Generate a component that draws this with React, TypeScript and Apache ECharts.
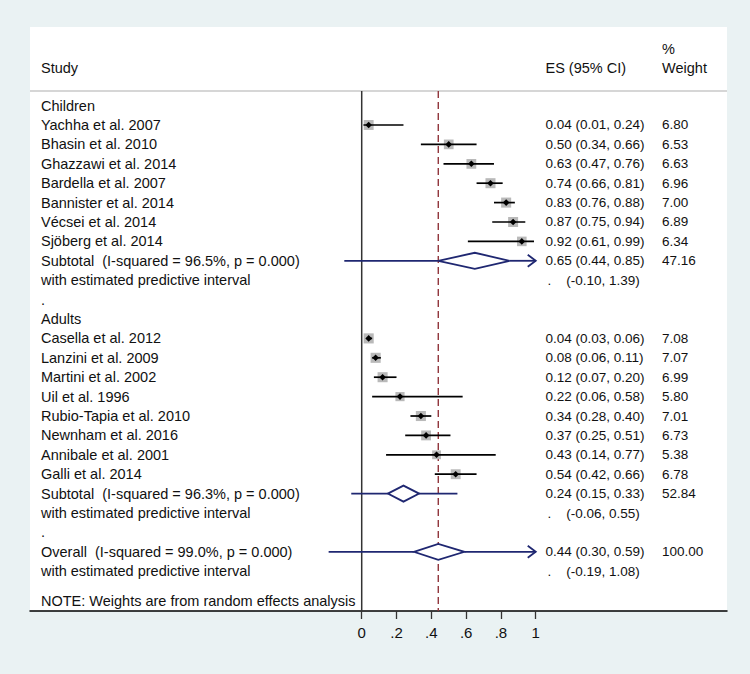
import React, { useEffect, useRef } from "react";
import * as echarts from "echarts";

// ---------- data ----------
const groupNames = ["Children", "Adults"];

const childStudies = [
  "Yachha et al. 2007",
  "Bhasin et al. 2010",
  "Ghazzawi et al. 2014",
  "Bardella et al. 2007",
  "Bannister et al. 2014",
  "Vécsei et al. 2014",
  "Sjöberg et al. 2014",
];
const childES = [0.04, 0.5, 0.63, 0.74, 0.83, 0.87, 0.92];
const childLo = [0.01, 0.34, 0.47, 0.66, 0.76, 0.75, 0.61];
const childHi = [0.24, 0.66, 0.76, 0.81, 0.88, 0.94, 0.99];
const childWeight = [6.8, 6.53, 6.63, 6.96, 7.0, 6.89, 6.34];

const adultStudies = [
  "Casella et al. 2012",
  "Lanzini et al. 2009",
  "Martini et al. 2002",
  "Uil et al. 1996",
  "Rubio-Tapia et al. 2010",
  "Newnham et al. 2016",
  "Annibale et al. 2001",
  "Galli et al. 2014",
];
const adultES = [0.04, 0.08, 0.12, 0.22, 0.34, 0.37, 0.43, 0.54];
const adultLo = [0.03, 0.06, 0.07, 0.06, 0.28, 0.25, 0.14, 0.42];
const adultHi = [0.06, 0.11, 0.2, 0.58, 0.4, 0.51, 0.77, 0.66];
const adultWeight = [7.08, 7.07, 6.99, 5.8, 7.01, 6.73, 5.38, 6.78];

const pooledLabels = [
  "Subtotal  (I-squared = 96.5%, p = 0.000)",
  "Subtotal  (I-squared = 96.3%, p = 0.000)",
  "Overall  (I-squared = 99.0%, p = 0.000)",
];
const pooledES = [0.65, 0.24, 0.44];
const pooledLo = [0.44, 0.15, 0.3];
const pooledHi = [0.85, 0.33, 0.59];
const pooledWeight = [47.16, 52.84, 100.0];
const predLo = [-0.1, -0.06, -0.19];
const predHi = [1.39, 0.55, 1.08];

const tickValues = [0, 0.2, 0.4, 0.6, 0.8, 1];
const tickLabels = ["0", ".2", ".4", ".6", ".8", "1"];

const headerStudy = "Study";
const headerES = "ES (95% CI)";
const headerPct = "%";
const headerWeight = "Weight";
const predictiveLabel = "with estimated predictive interval";
const noteText = "NOTE: Weights are from random effects analysis";

// ---------- layout constants ----------
const X_MIN = -1.906;
const X_MAX = 2.099;
const Y_MIN = -4.05;
const Y_MAX = 26.05;
const HEADER_LINE_ROW = -0.75;
const HEADER_ROW = -1.94;
const PCT_ROW = -2.92;
const COL_LEFT = -1.843;
const COL_ES = 1.056;
const COL_DOT = 1.068;
const COL_PI = 1.175;
const COL_W = 1.726;

const FONT_FAMILY = '"Liberation Sans", Arial, Helvetica, sans-serif';
const LEFT_FONT = `14.5px ${FONT_FAMILY}`;
const NUM_FONT = `13.5px ${FONT_FAMILY}`;
const NAVY = "#1f2771";
const MAROON = "#90353b";
const BG = "#eaf2f3";

const fmt = (v: number) => v.toFixed(2);

type TextItem = { x: number; row: number; text: string; font: string };

function buildRows() {
  const texts: TextItem[] = [];
  const studies: number[][] = [];
  const pooled: number[][] = [];
  const groups = [
    { names: childStudies, es: childES, lo: childLo, hi: childHi, w: childWeight },
    { names: adultStudies, es: adultES, lo: adultLo, hi: adultHi, w: adultWeight },
  ];
  let r = 0;
  const addPooled = (k: number) => {
    texts.push({ x: COL_LEFT, row: r, text: pooledLabels[k], font: LEFT_FONT });
    texts.push({
      x: COL_ES,
      row: r,
      text: `${fmt(pooledES[k])} (${fmt(pooledLo[k])}, ${fmt(pooledHi[k])})`,
      font: NUM_FONT,
    });
    texts.push({ x: COL_W, row: r, text: fmt(pooledWeight[k]), font: NUM_FONT });
    pooled.push([pooledES[k], r, pooledLo[k], pooledHi[k], predLo[k], predHi[k]]);
    r++;
    texts.push({ x: COL_LEFT, row: r, text: predictiveLabel, font: LEFT_FONT });
    texts.push({ x: COL_DOT, row: r, text: ".", font: NUM_FONT });
    texts.push({ x: COL_PI, row: r, text: `(${fmt(predLo[k])}, ${fmt(predHi[k])})`, font: NUM_FONT });
    r++;
  };
  groups.forEach((g, gi) => {
    texts.push({ x: COL_LEFT, row: r, text: groupNames[gi], font: LEFT_FONT });
    r++;
    g.names.forEach((name, i) => {
      texts.push({ x: COL_LEFT, row: r, text: name, font: LEFT_FONT });
      texts.push({
        x: COL_ES,
        row: r,
        text: `${fmt(g.es[i])} (${fmt(g.lo[i])}, ${fmt(g.hi[i])})`,
        font: NUM_FONT,
      });
      texts.push({ x: COL_W, row: r, text: fmt(g.w[i]), font: NUM_FONT });
      studies.push([g.es[i], r, g.lo[i], g.hi[i], g.w[i]]);
      r++;
    });
    addPooled(gi);
    texts.push({ x: COL_LEFT, row: r, text: ".", font: LEFT_FONT });
    r++;
  });
  addPooled(2);
  texts.push({ x: COL_LEFT, row: r + 0.54, text: noteText, font: LEFT_FONT });
  texts.push({ x: COL_LEFT, row: HEADER_ROW, text: headerStudy, font: LEFT_FONT });
  texts.push({ x: COL_ES, row: HEADER_ROW, text: headerES, font: LEFT_FONT });
  texts.push({ x: COL_W, row: PCT_ROW, text: headerPct, font: LEFT_FONT });
  texts.push({ x: COL_W, row: HEADER_ROW, text: headerWeight, font: LEFT_FONT });
  return { texts, studies, pooled };
}

export default function App() {
  const ref = useRef<HTMLDivElement>(null);

  useEffect(() => {
    if (!ref.current) return;
    const chart = echarts.init(ref.current, undefined, { renderer: "svg" });
    const { texts, studies, pooled } = buildRows();
    const axisEnd = tickValues[tickValues.length - 1];
    const overallES = pooledES[pooledES.length - 1];

    const option: any = {
      animation: false,
      backgroundColor: BG,
      grid: {
        left: 30,
        right: 23,
        top: 27,
        bottom: 63,
        show: true,
        backgroundColor: "#ffffff",
        borderWidth: 0,
        containLabel: false,
        outerBoundsMode: "none",
      },
      xAxis: {
        type: "value",
        min: X_MIN,
        max: X_MAX,
        splitLine: { show: false },
        axisLine: { show: true, onZero: false, lineStyle: { color: "#000", width: 1.5 } },
        axisTick: {
          show: true,
          customValues: tickValues,
          length: 8,
          lineStyle: { color: "#333", width: 1.3 },
        },
        axisLabel: {
          show: true,
          customValues: tickValues,
          margin: 14,
          color: "#111",
          fontSize: 15,
          fontFamily: FONT_FAMILY,
          formatter: (v: number) => {
            const i = tickValues.findIndex((t) => Math.abs(t - v) < 1e-9);
            return i >= 0 ? tickLabels[i] : "";
          },
        },
      },
      yAxis: {
        type: "value",
        inverse: true,
        min: Y_MIN,
        max: Y_MAX,
        show: false,
        axisLine: { show: false, onZero: false },
        splitLine: { show: false },
      },
      series: [
        {
          type: "custom",
          name: "refLines",
          silent: true,
          clip: false,
          data: [
            [HEADER_LINE_ROW, 0],
            [0, 1],
            [overallES, 2],
          ],
          renderItem: (params: any, api: any) => {
            const v = api.value(0);
            const kind = api.value(1);
            const cs = params.coordSys;
            if (kind === 0) {
              const p = api.coord([0, v]);
              return {
                type: "line",
                shape: { x1: cs.x, y1: p[1], x2: cs.x + cs.width, y2: p[1] },
                style: { stroke: "#c8c8c8", lineWidth: 1.5 },
              };
            }
            const top = api.coord([v, HEADER_LINE_ROW]);
            const bot = api.coord([v, Y_MAX]);
            return {
              type: "line",
              shape: { x1: top[0], y1: top[1], x2: bot[0], y2: bot[1] },
              style:
                kind === 1
                  ? { stroke: "#333", lineWidth: 1.5 }
                  : { stroke: MAROON, lineWidth: 1.4, lineDash: [7, 4] },
            };
          },
        },
        {
          type: "custom",
          name: "studies",
          silent: true,
          clip: false,
          data: studies,
          renderItem: (_params: any, api: any) => {
            const es = api.value(0);
            const row = api.value(1);
            const p = api.coord([es, row]);
            const pl = api.coord([api.value(2), row]);
            const ph = api.coord([api.value(3), row]);
            const s = 3.8 * Math.sqrt(api.value(4));
            const d = 3.3;
            return {
              type: "group",
              children: [
                {
                  type: "rect",
                  shape: { x: p[0] - s / 2, y: p[1] - s / 2, width: s, height: s },
                  style: { fill: "#b9b9b9" },
                },
                {
                  type: "line",
                  shape: { x1: pl[0], y1: pl[1], x2: ph[0], y2: ph[1] },
                  style: { stroke: "#000", lineWidth: 1.7 },
                },
                {
                  type: "polygon",
                  shape: {
                    points: [
                      [p[0] - d, p[1]],
                      [p[0], p[1] - d],
                      [p[0] + d, p[1]],
                      [p[0], p[1] + d],
                    ],
                  },
                  style: { fill: "#000" },
                },
              ],
            };
          },
        },
        {
          type: "custom",
          name: "pooled",
          silent: true,
          clip: false,
          data: pooled,
          renderItem: (_params: any, api: any) => {
            const es = api.value(0);
            const row = api.value(1);
            const lo = api.value(2);
            const hi = api.value(3);
            const pilo = api.value(4);
            const pihi = api.value(5);
            const c = api.coord([es, row]);
            const l = api.coord([lo, row]);
            const h = api.coord([hi, row]);
            const pl = api.coord([pilo, row]);
            const clipped = pihi > axisEnd;
            const ph = api.coord([Math.min(pihi, axisEnd), row]);
            const hh = 8;
            const style = { stroke: NAVY, lineWidth: 1.8, fill: "none" };
            const children: any[] = [
              {
                type: "line",
                shape: { x1: pl[0], y1: pl[1], x2: l[0], y2: l[1] },
                style,
              },
              {
                type: "line",
                shape: { x1: h[0], y1: h[1], x2: ph[0], y2: ph[1] },
                style,
              },
              {
                type: "polygon",
                shape: {
                  points: [
                    [l[0], l[1]],
                    [c[0], c[1] - hh],
                    [h[0], h[1]],
                    [c[0], c[1] + hh],
                  ],
                },
                style: { stroke: NAVY, lineWidth: 1.8, fill: "#ffffff" },
              },
            ];
            if (clipped) {
              children.push({
                type: "polyline",
                shape: {
                  points: [
                    [ph[0] - 8, ph[1] - 6],
                    [ph[0], ph[1]],
                    [ph[0] - 8, ph[1] + 6],
                  ],
                },
                style: { stroke: NAVY, lineWidth: 1.8, fill: "none" },
              });
            }
            return { type: "group", children };
          },
        },
        {
          type: "custom",
          name: "table",
          silent: true,
          clip: false,
          data: texts.map((t, i) => [t.x, t.row, i]),
          renderItem: (_params: any, api: any) => {
            const t = texts[api.value(2)];
            const p = api.coord([api.value(0), api.value(1)]);
            return {
              type: "text",
              x: p[0],
              y: p[1],
              style: {
                text: t.text,
                font: t.font,
                fill: "#111",
                align: "left",
                verticalAlign: "middle",
              },
            };
          },
        },
      ],
    };

    chart.setOption(option);
    return () => chart.dispose();
  }, []);

  return (
    <div
      ref={ref}
      style={{ position: "fixed", left: 0, top: 0, width: 750, height: 674 }}
    />
  );
}
